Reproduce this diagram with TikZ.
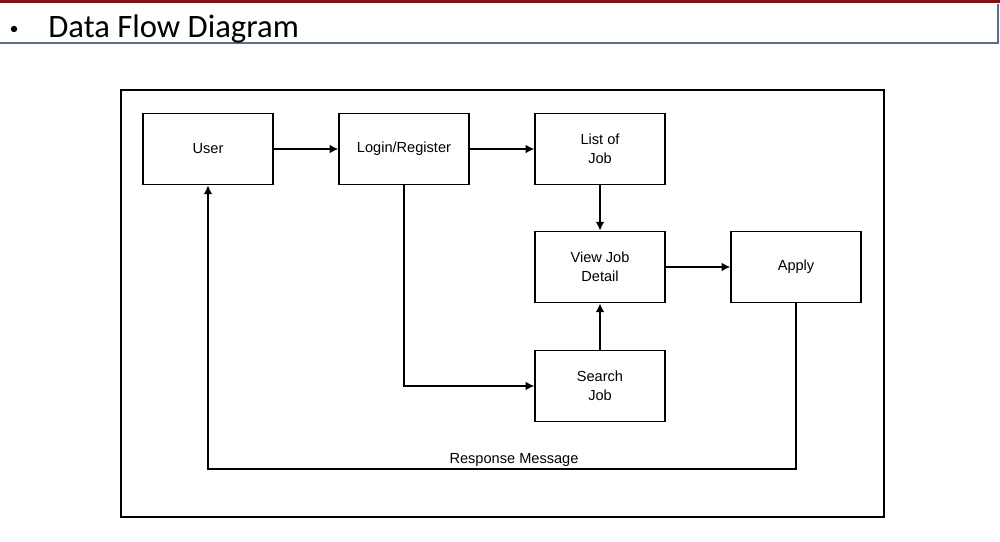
\documentclass[tikz,border=0pt]{standalone}
\usepackage{fontspec}
\setmainfont{Liberation Sans}
\newfontfamily\titlefont{Carlito}
\usetikzlibrary{arrows.meta}
\definecolor{TitleRed}{RGB}{122,22,22}
\definecolor{TitleRule}{RGB}{90,110,140}
\tikzset{
  process/.style={draw, line width=0.8pt, minimum width=2.6cm, minimum height=1.43cm,
    align=center, font=\fontsize{8.3}{11}\selectfont},
  flow/.style={line width=0.8pt, -{Latex[length=5pt,width=5pt]}}
}
\begin{document}
\begin{tikzpicture}[x=0.02cm, y=-0.02cm]
\useasboundingbox (0,0) rectangle (1000,541);
% heading
\fill[TitleRed] (0,0) rectangle (1000,3);
\draw[TitleRule, line width=0.6pt] (0,43) -- (998,43) -- (998,4);
\fill (14,29) circle (3.2) coordinate (bullet);
\node[anchor=base west, inner sep=0pt] (title) at (48,37) {\titlefont\fontsize{18.6}{22}\selectfont Data Flow Diagram};
% frame
\draw[line width=0.8pt] (121,90) rectangle (884,517);
% processes
\node[process] (user) at (208,149) {User};
\node[process] (login) at (404,149) {Login/Register};
\node[process] (list) at (600,149) {List of\\Job};
\node[process] (detail) at (600,267) {View Job\\Detail};
\node[process] (apply) at (796,267) {Apply};
\node[process] (search) at (600,386) {Search\\Job};
\coordinate (bend) at (404,386);
\coordinate (resp) at (796,469);
\coordinate (back) at (208,469);
% flows
\draw[flow] (user) -- (login);
\draw[flow] (login) -- (list);
\draw[flow] (list) -- (detail);
\draw[flow] (detail) -- (apply);
\draw[flow] (search) -- (detail);
\draw[flow] (login.south) -- (bend) -- (search.west);
\draw[flow] (apply.south) -- (resp) -- (back) -- (user.south);
\node[font=\fontsize{8.3}{10}\selectfont, anchor=base, inner sep=0pt] (resplabel) at (514,463) {Response Message};
\end{tikzpicture}
\end{document}
